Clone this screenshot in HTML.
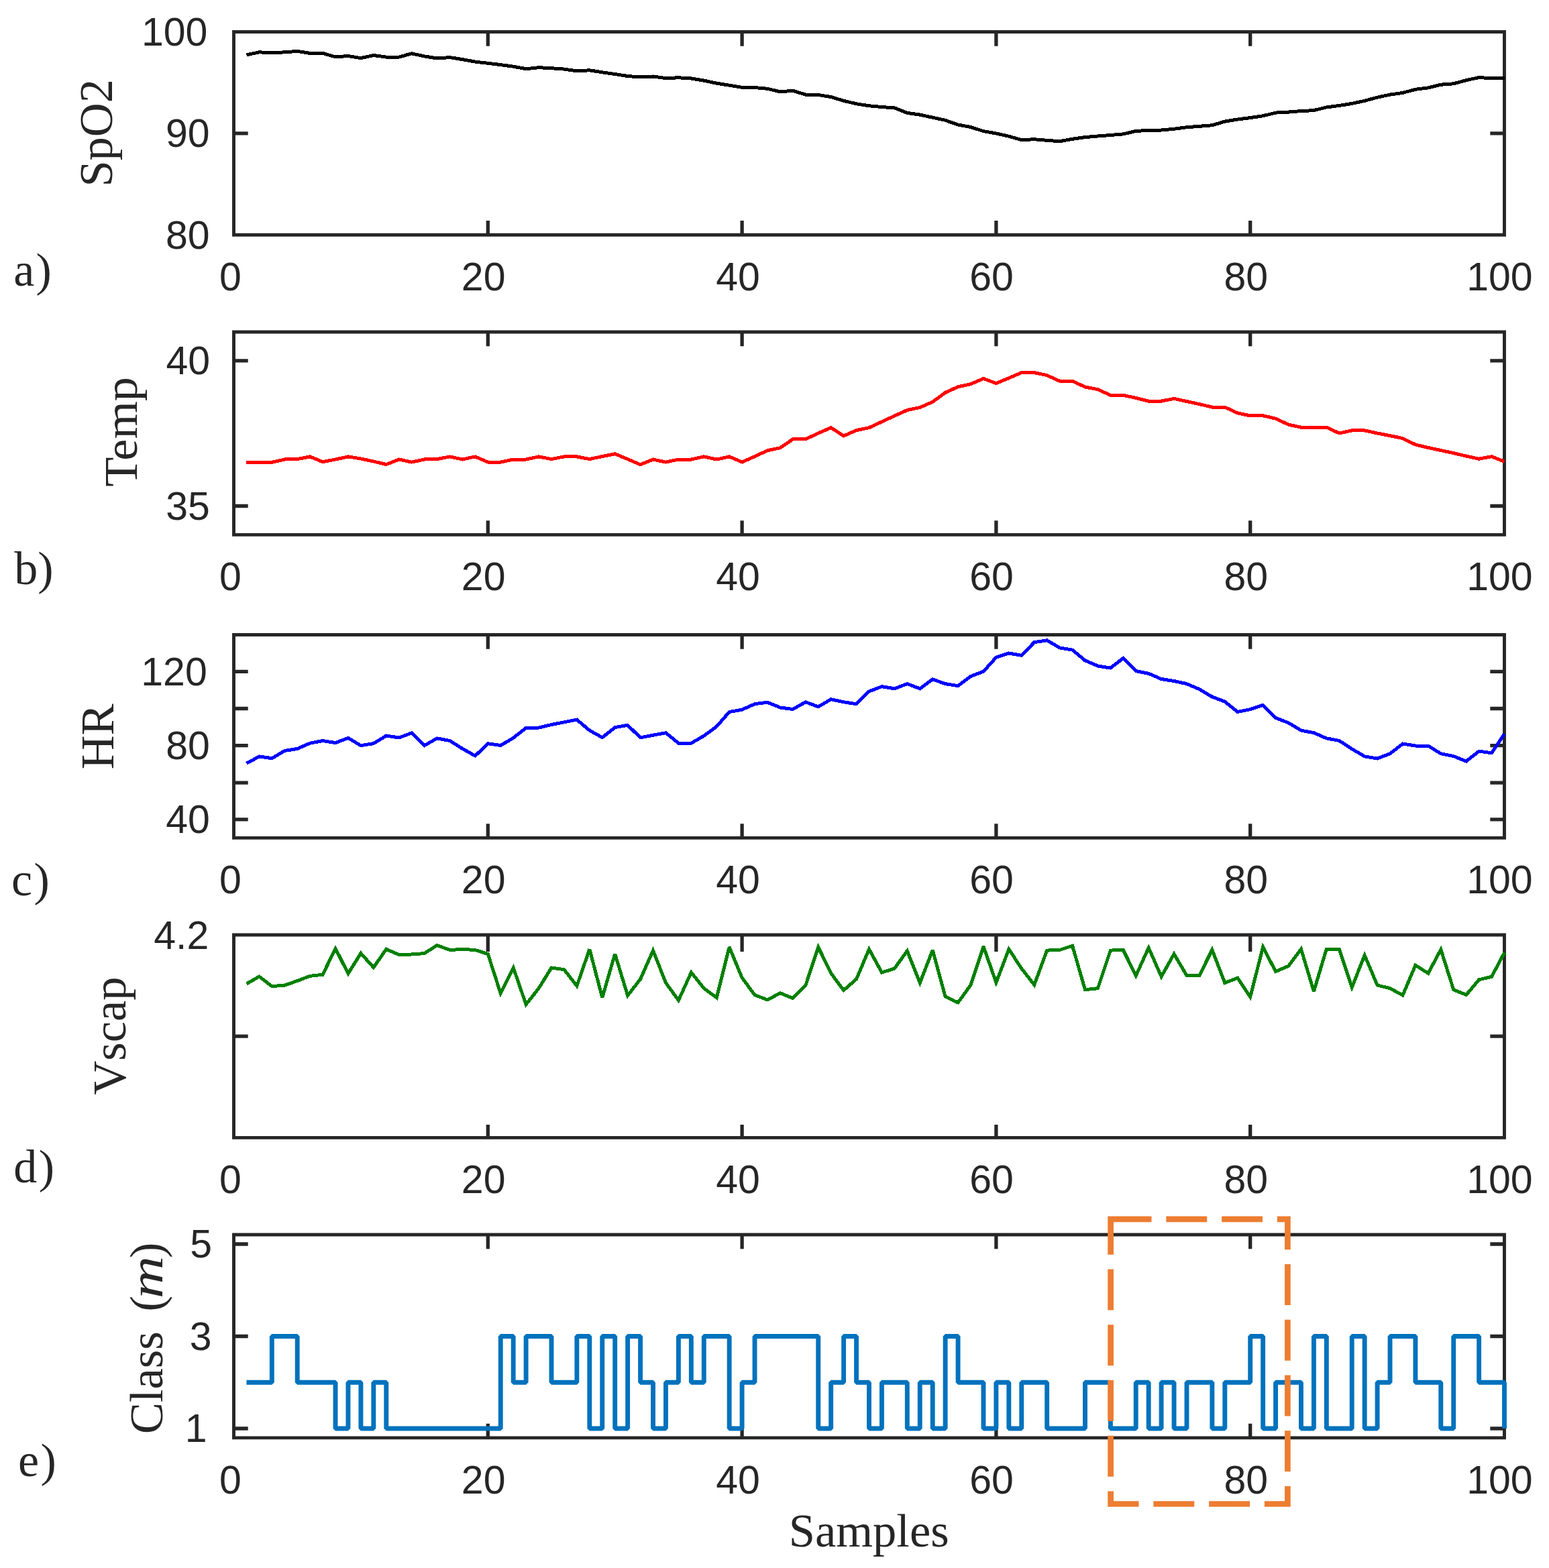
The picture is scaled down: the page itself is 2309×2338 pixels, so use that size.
<!DOCTYPE html><html><head><meta charset="utf-8"><title>Figure</title><style>html,body{margin:0;padding:0;background:#fff}svg{display:block}</style></head><body>
<svg width="2309" height="2338" viewBox="0 0 2309 2338">
<rect width="2309" height="2338" fill="#fff"/>
<path d="M727.3 350.3V329.1M727.3 47.5V68.7M1106.1 350.3V329.1M1106.1 47.5V68.7M1484.9 350.3V329.1M1484.9 47.5V68.7M1863.7 350.3V329.1M1863.7 47.5V68.7M348.5 198.9H369.7M2242.5 198.9H2221.3" fill="none" stroke="#262626" stroke-width="5.3" stroke-linecap="butt"/>
<path d="M348.5 47.5H2242.5V350.3H348.5Z" fill="none" stroke="#262626" stroke-width="4.9" stroke-linejoin="miter"/>
<path d="M727.3 797.4V776.2M727.3 495V516.2M1106.1 797.4V776.2M1106.1 495V516.2M1484.9 797.4V776.2M1484.9 495V516.2M1863.7 797.4V776.2M1863.7 495V516.2M348.5 537.9H369.7M2242.5 537.9H2221.3M348.5 754.5H369.7M2242.5 754.5H2221.3" fill="none" stroke="#262626" stroke-width="5.3" stroke-linecap="butt"/>
<path d="M348.5 495H2242.5V797.4H348.5Z" fill="none" stroke="#262626" stroke-width="4.9" stroke-linejoin="miter"/>
<path d="M727.3 1249.4V1228.2M727.3 946.5V967.7M1106.1 1249.4V1228.2M1106.1 946.5V967.7M1484.9 1249.4V1228.2M1484.9 946.5V967.7M1863.7 1249.4V1228.2M1863.7 946.5V967.7M348.5 1001.3H369.7M2242.5 1001.3H2221.3M348.5 1056.5H369.7M2242.5 1056.5H2221.3M348.5 1111.6H369.7M2242.5 1111.6H2221.3M348.5 1167.1H369.7M2242.5 1167.1H2221.3M348.5 1221.8H369.7M2242.5 1221.8H2221.3" fill="none" stroke="#262626" stroke-width="5.3" stroke-linecap="butt"/>
<path d="M348.5 946.5H2242.5V1249.4H348.5Z" fill="none" stroke="#262626" stroke-width="4.9" stroke-linejoin="miter"/>
<path d="M727.3 1696.4V1677.1M727.3 1394V1419.1M1106.1 1696.4V1677.1M1106.1 1394V1419.1M1484.9 1696.4V1677.1M1484.9 1394V1419.1M1863.7 1696.4V1677.1M1863.7 1394V1419.1M348.5 1545.2H369.7M2242.5 1545.2H2221.3" fill="none" stroke="#262626" stroke-width="5.3" stroke-linecap="butt"/>
<path d="M348.5 1394H2242.5V1696.4H348.5Z" fill="none" stroke="#262626" stroke-width="4.9" stroke-linejoin="miter"/>
<path d="M727.3 2143.9V2122.7M727.3 1841V1862.2M1106.1 2143.9V2122.7M1106.1 1841V1862.2M1484.9 2143.9V2122.7M1484.9 1841V1862.2M1863.7 2143.9V2122.7M1863.7 1841V1862.2M348.5 1855H369.7M2242.5 1855H2221.3M348.5 1992.5H369.7M2242.5 1992.5H2221.3M348.5 2130H369.7M2242.5 2130H2221.3" fill="none" stroke="#262626" stroke-width="5.3" stroke-linecap="butt"/>
<path d="M348.5 1841H2242.5V2143.9H348.5Z" fill="none" stroke="#262626" stroke-width="4.9" stroke-linejoin="miter"/>
<polyline points="367.44,81.9 386.38,77.8 405.32,79 424.26,77.8 443.2,76.4 462.14,79.4 481.08,79.4 500.02,84.9 518.96,83.5 537.9,86.6 556.84,82.5 575.78,85.1 594.72,85.1 613.66,79.8 632.6,83.9 651.54,87 670.48,85.6 689.42,88.6 708.36,92.1 727.3,94.3 746.24,96.6 765.18,99.2 784.12,102.7 803.06,100.7 822,101.7 840.94,103.1 859.88,105.8 878.82,104.8 897.76,107.8 916.7,110.5 935.64,113.5 954.58,115 973.52,114 992.46,116.6 1011.4,115.8 1030.34,117 1049.28,120.1 1068.22,124.2 1087.16,127.2 1106.1,130.3 1125.04,130.6 1143.98,132.3 1162.92,136.8 1181.86,135.3 1200.8,141.1 1219.74,141.5 1238.68,144.5 1257.62,150.3 1276.56,154.8 1295.5,157.8 1314.44,159.5 1333.38,160.9 1352.32,168.4 1371.26,171.1 1390.2,175.2 1409.14,179.3 1428.08,186 1447.02,189.5 1465.96,195.6 1484.9,199 1503.84,203.2 1522.78,208.7 1541.72,207.7 1560.66,209.3 1579.6,210.7 1598.54,207.3 1617.48,204.6 1636.42,203 1655.36,201.5 1674.3,199.9 1693.24,195.4 1712.18,194.4 1731.12,194 1750.06,192.3 1769,189.7 1787.94,188.3 1806.88,186.8 1825.82,181.1 1844.76,178 1863.7,175.6 1882.64,172.8 1901.58,168.1 1920.52,167.1 1939.46,165.6 1958.4,164.6 1977.34,159.9 1996.28,157.5 2015.22,154.4 2034.16,150.3 2053.1,145.2 2072.04,141.1 2090.98,138.4 2109.92,133.3 2128.86,130.9 2147.8,126.2 2166.74,124.8 2185.68,119.6 2204.62,115.6 2223.56,116.6 2242.5,116.6" fill="none" stroke="#000000" stroke-width="5" stroke-linejoin="miter" stroke-miterlimit="3" shape-rendering="crispEdges"/>
<polyline points="367.44,689.3 386.38,689.3 405.32,689.3 424.26,685 443.2,684.6 462.14,680.9 481.08,688.7 500.02,685 518.96,680.9 537.9,684 556.84,688 575.78,692.5 594.72,685 613.66,689.1 632.6,685 651.54,684.6 670.48,680.9 689.42,685 708.36,680.9 727.3,689.1 746.24,689.1 765.18,685 784.12,685 803.06,680.9 822,684.6 840.94,680.9 859.88,680.9 878.82,684.6 897.76,680.5 916.7,676.8 935.64,684.6 954.58,692.7 973.52,685 992.46,689.1 1011.4,685 1030.34,685 1049.28,680.9 1068.22,685 1087.16,680.9 1106.1,689 1125.04,680.6 1143.98,671.8 1162.92,667.8 1181.86,654.9 1200.8,654.9 1219.74,645.9 1238.68,637.7 1257.62,650 1276.56,641.6 1295.5,637.7 1314.44,628.9 1333.38,620.1 1352.32,611.5 1371.26,607.5 1390.2,599.3 1409.14,585.4 1428.08,576.8 1447.02,572.7 1465.96,564.5 1484.9,571.6 1503.84,563.7 1522.78,555.6 1541.72,555.6 1560.66,559.6 1579.6,568.2 1598.54,568.2 1617.48,577 1636.42,580.7 1655.36,589.3 1674.3,589.3 1693.24,593.4 1712.18,598.1 1731.12,598.1 1750.06,594.4 1769,598.5 1787.94,602.6 1806.88,607.1 1825.82,607.1 1844.76,615.9 1863.7,619.9 1882.64,619.8 1901.58,624.1 1920.52,633.1 1939.46,637.2 1958.4,637.2 1977.34,637.2 1996.28,646 2015.22,641.9 2034.16,641.9 2053.1,646 2072.04,649.7 2090.98,653.6 2109.92,663 2128.86,667.5 2147.8,671.5 2166.74,675.6 2185.68,680.1 2204.62,684.2 2223.56,680.7 2242.5,688.3" fill="none" stroke="#ff0000" stroke-width="5" stroke-linejoin="miter" stroke-miterlimit="3" shape-rendering="crispEdges"/>
<polyline points="367.44,1138.3 386.38,1128 405.32,1130.7 424.26,1119.5 443.2,1116.4 462.14,1108.2 481.08,1104.5 500.02,1107.6 518.96,1100.4 537.9,1111.7 556.84,1108.6 575.78,1097 594.72,1100 613.66,1092.9 632.6,1111.7 651.54,1100.9 670.48,1104.5 689.42,1116.4 708.36,1127 727.3,1108.8 746.24,1111.5 765.18,1100.3 784.12,1085.4 803.06,1085 822,1080.5 840.94,1076.8 859.88,1073.1 878.82,1089.1 897.76,1099.7 916.7,1084.6 935.64,1081.3 954.58,1099.9 973.52,1096.2 992.46,1092.7 1011.4,1108.1 1030.34,1108.1 1049.28,1097.2 1068.22,1083.3 1087.16,1061.5 1106.1,1058.2 1125.04,1049.7 1143.98,1047.2 1162.92,1055 1181.86,1057.5 1200.8,1046.8 1219.74,1053.8 1238.68,1042.7 1257.62,1046.8 1276.56,1049.7 1295.5,1030.9 1314.44,1023.7 1333.38,1026.8 1352.32,1019.6 1371.26,1026.8 1390.2,1012.9 1409.14,1019.6 1428.08,1022.7 1447.02,1008.4 1465.96,1001.2 1484.9,980.2 1503.84,974 1522.78,977.3 1541.72,957.7 1560.66,954.8 1579.6,965.9 1598.54,969.1 1617.48,984.9 1636.42,993 1655.36,996.1 1674.3,981.4 1693.24,1000.6 1712.18,1004.3 1731.12,1012.5 1750.06,1015.5 1769,1019.6 1787.94,1027.8 1806.88,1039 1825.82,1046.2 1844.76,1061.5 1863.7,1057.7 1882.64,1051.2 1901.58,1070.3 1920.52,1077.8 1939.46,1089.1 1958.4,1092.7 1977.34,1100.9 1996.28,1104.4 2015.22,1116.7 2034.16,1127.9 2053.1,1131 2072.04,1123.8 2090.98,1109.1 2109.92,1112 2128.86,1112 2147.8,1123.8 2166.74,1127.5 2185.68,1135.1 2204.62,1120.1 2223.56,1122.8 2242.5,1094.2" fill="none" stroke="#0000ff" stroke-width="5" stroke-linejoin="miter" stroke-miterlimit="3" shape-rendering="crispEdges"/>
<polyline points="367.44,1467 386.38,1456.1 405.32,1470.6 424.26,1469.2 443.2,1462.5 462.14,1455.3 481.08,1453.3 500.02,1414.2 518.96,1451.7 537.9,1421.4 556.84,1442.5 575.78,1415.3 594.72,1423.6 613.66,1423 632.6,1421.6 651.54,1409.5 670.48,1416.5 689.42,1415.4 708.36,1416.5 727.3,1422.4 746.24,1481.3 765.18,1442.9 784.12,1497.7 803.06,1473.7 822,1443 840.94,1445.7 859.88,1470.1 878.82,1415.3 897.76,1487.5 916.7,1422.4 935.64,1484.4 954.58,1460 973.52,1417.3 992.46,1465.5 1011.4,1491.6 1030.34,1450 1049.28,1473.7 1068.22,1487.5 1087.16,1412.2 1106.1,1458 1125.04,1483.5 1143.98,1490.9 1162.92,1480.7 1181.86,1488.5 1200.8,1469.6 1219.74,1412.2 1238.68,1451.2 1257.62,1476.6 1276.56,1460 1295.5,1415.3 1314.44,1450.1 1333.38,1444.1 1352.32,1417.9 1371.26,1465.6 1390.2,1416.7 1409.14,1486 1428.08,1495 1447.02,1468.6 1465.96,1411.2 1484.9,1465 1503.84,1415.3 1522.78,1444.1 1541.72,1468.5 1560.66,1417.1 1579.6,1416.5 1598.54,1410.2 1617.48,1475.7 1636.42,1473.7 1655.36,1417.1 1674.3,1416.5 1693.24,1454.8 1712.18,1413.2 1731.12,1456.2 1750.06,1422.4 1769,1454.7 1787.94,1454.3 1806.88,1416.3 1825.82,1465.6 1844.76,1458.2 1863.7,1486.4 1882.64,1412.2 1901.58,1448.6 1920.52,1440.4 1939.46,1415.3 1958.4,1478.3 1977.34,1415 1996.28,1415 2015.22,1472.1 2034.16,1424.5 2053.1,1469 2072.04,1473.7 2090.98,1484 2109.92,1439.2 2128.86,1451.3 2147.8,1415.9 2166.74,1475.7 2185.68,1483.4 2204.62,1460.8 2223.56,1456.3 2242.5,1420.4" fill="none" stroke="#008000" stroke-width="5" stroke-linejoin="miter" stroke-miterlimit="3" shape-rendering="crispEdges"/>
<polyline points="367.44,2061.25 386.38,2061.25 386.38,2061.25 405.32,2061.25 405.32,1992.5 424.26,1992.5 424.26,1992.5 443.2,1992.5 443.2,2061.25 462.14,2061.25 462.14,2061.25 481.08,2061.25 481.08,2061.25 500.02,2061.25 500.02,2130 518.96,2130 518.96,2061.25 537.9,2061.25 537.9,2130 556.84,2130 556.84,2061.25 575.78,2061.25 575.78,2130 594.72,2130 594.72,2130 613.66,2130 613.66,2130 632.6,2130 632.6,2130 651.54,2130 651.54,2130 670.48,2130 670.48,2130 689.42,2130 689.42,2130 708.36,2130 708.36,2130 727.3,2130 727.3,2130 746.24,2130 746.24,1992.5 765.18,1992.5 765.18,2061.25 784.12,2061.25 784.12,1992.5 803.06,1992.5 803.06,1992.5 822,1992.5 822,2061.25 840.94,2061.25 840.94,2061.25 859.88,2061.25 859.88,1992.5 878.82,1992.5 878.82,2130 897.76,2130 897.76,1992.5 916.7,1992.5 916.7,2130 935.64,2130 935.64,1992.5 954.58,1992.5 954.58,2061.25 973.52,2061.25 973.52,2130 992.46,2130 992.46,2061.25 1011.4,2061.25 1011.4,1992.5 1030.34,1992.5 1030.34,2061.25 1049.28,2061.25 1049.28,1992.5 1068.22,1992.5 1068.22,1992.5 1087.16,1992.5 1087.16,2130 1106.1,2130 1106.1,2061.25 1125.04,2061.25 1125.04,1992.5 1143.98,1992.5 1143.98,1992.5 1162.92,1992.5 1162.92,1992.5 1181.86,1992.5 1181.86,1992.5 1200.8,1992.5 1200.8,1992.5 1219.74,1992.5 1219.74,2130 1238.68,2130 1238.68,2061.25 1257.62,2061.25 1257.62,1992.5 1276.56,1992.5 1276.56,2061.25 1295.5,2061.25 1295.5,2130 1314.44,2130 1314.44,2061.25 1333.38,2061.25 1333.38,2061.25 1352.32,2061.25 1352.32,2130 1371.26,2130 1371.26,2061.25 1390.2,2061.25 1390.2,2130 1409.14,2130 1409.14,1992.5 1428.08,1992.5 1428.08,2061.25 1447.02,2061.25 1447.02,2061.25 1465.96,2061.25 1465.96,2130 1484.9,2130 1484.9,2061.25 1503.84,2061.25 1503.84,2130 1522.78,2130 1522.78,2061.25 1541.72,2061.25 1541.72,2061.25 1560.66,2061.25 1560.66,2130 1579.6,2130 1579.6,2130 1598.54,2130 1598.54,2130 1617.48,2130 1617.48,2061.25 1636.42,2061.25 1636.42,2061.25 1655.36,2061.25 1655.36,2130 1674.3,2130 1674.3,2130 1693.24,2130 1693.24,2061.25 1712.18,2061.25 1712.18,2130 1731.12,2130 1731.12,2061.25 1750.06,2061.25 1750.06,2130 1769,2130 1769,2061.25 1787.94,2061.25 1787.94,2061.25 1806.88,2061.25 1806.88,2130 1825.82,2130 1825.82,2061.25 1844.76,2061.25 1844.76,2061.25 1863.7,2061.25 1863.7,1992.5 1882.64,1992.5 1882.64,2130 1901.58,2130 1901.58,2061.25 1920.52,2061.25 1920.52,2061.25 1939.46,2061.25 1939.46,2130 1958.4,2130 1958.4,1992.5 1977.34,1992.5 1977.34,2130 1996.28,2130 1996.28,2130 2015.22,2130 2015.22,1992.5 2034.16,1992.5 2034.16,2130 2053.1,2130 2053.1,2061.25 2072.04,2061.25 2072.04,1992.5 2090.98,1992.5 2090.98,1992.5 2109.92,1992.5 2109.92,2061.25 2128.86,2061.25 2128.86,2061.25 2147.8,2061.25 2147.8,2130 2166.74,2130 2166.74,1992.5 2185.68,1992.5 2185.68,1992.5 2204.62,1992.5 2204.62,2061.25 2223.56,2061.25 2223.56,2061.25 2242.5,2061.25 2242.5,2130" fill="none" stroke="#0072bd" stroke-width="6.9" stroke-linejoin="bevel"/>
<text x="327.09" y="433.3" font-family='"Liberation Sans", Arial, sans-serif' font-size="59" fill="#262626">0</text>
<text x="687.86" y="433.3" font-family='"Liberation Sans", Arial, sans-serif' font-size="59" fill="#262626">20</text>
<text x="1067.26" y="433.3" font-family='"Liberation Sans", Arial, sans-serif' font-size="59" fill="#262626">40</text>
<text x="1445.14" y="433.3" font-family='"Liberation Sans", Arial, sans-serif' font-size="59" fill="#262626">60</text>
<text x="1824.56" y="433.3" font-family='"Liberation Sans", Arial, sans-serif' font-size="59" fill="#262626">80</text>
<text x="2186.19" y="433.3" font-family='"Liberation Sans", Arial, sans-serif' font-size="59" fill="#262626">100</text>
<text x="327.09" y="880.4" font-family='"Liberation Sans", Arial, sans-serif' font-size="59" fill="#262626">0</text>
<text x="687.86" y="880.4" font-family='"Liberation Sans", Arial, sans-serif' font-size="59" fill="#262626">20</text>
<text x="1067.26" y="880.4" font-family='"Liberation Sans", Arial, sans-serif' font-size="59" fill="#262626">40</text>
<text x="1445.14" y="880.4" font-family='"Liberation Sans", Arial, sans-serif' font-size="59" fill="#262626">60</text>
<text x="1824.56" y="880.4" font-family='"Liberation Sans", Arial, sans-serif' font-size="59" fill="#262626">80</text>
<text x="2186.19" y="880.4" font-family='"Liberation Sans", Arial, sans-serif' font-size="59" fill="#262626">100</text>
<text x="327.09" y="1332.4" font-family='"Liberation Sans", Arial, sans-serif' font-size="59" fill="#262626">0</text>
<text x="687.86" y="1332.4" font-family='"Liberation Sans", Arial, sans-serif' font-size="59" fill="#262626">20</text>
<text x="1067.26" y="1332.4" font-family='"Liberation Sans", Arial, sans-serif' font-size="59" fill="#262626">40</text>
<text x="1445.14" y="1332.4" font-family='"Liberation Sans", Arial, sans-serif' font-size="59" fill="#262626">60</text>
<text x="1824.56" y="1332.4" font-family='"Liberation Sans", Arial, sans-serif' font-size="59" fill="#262626">80</text>
<text x="2186.19" y="1332.4" font-family='"Liberation Sans", Arial, sans-serif' font-size="59" fill="#262626">100</text>
<text x="327.09" y="1779.4" font-family='"Liberation Sans", Arial, sans-serif' font-size="59" fill="#262626">0</text>
<text x="687.86" y="1779.4" font-family='"Liberation Sans", Arial, sans-serif' font-size="59" fill="#262626">20</text>
<text x="1067.26" y="1779.4" font-family='"Liberation Sans", Arial, sans-serif' font-size="59" fill="#262626">40</text>
<text x="1445.14" y="1779.4" font-family='"Liberation Sans", Arial, sans-serif' font-size="59" fill="#262626">60</text>
<text x="1824.56" y="1779.4" font-family='"Liberation Sans", Arial, sans-serif' font-size="59" fill="#262626">80</text>
<text x="2186.19" y="1779.4" font-family='"Liberation Sans", Arial, sans-serif' font-size="59" fill="#262626">100</text>
<text x="327.09" y="2226.9" font-family='"Liberation Sans", Arial, sans-serif' font-size="59" fill="#262626">0</text>
<text x="687.86" y="2226.9" font-family='"Liberation Sans", Arial, sans-serif' font-size="59" fill="#262626">20</text>
<text x="1067.26" y="2226.9" font-family='"Liberation Sans", Arial, sans-serif' font-size="59" fill="#262626">40</text>
<text x="1445.14" y="2226.9" font-family='"Liberation Sans", Arial, sans-serif' font-size="59" fill="#262626">60</text>
<text x="1824.56" y="2226.9" font-family='"Liberation Sans", Arial, sans-serif' font-size="59" fill="#262626">80</text>
<text x="2186.19" y="2226.9" font-family='"Liberation Sans", Arial, sans-serif' font-size="59" fill="#262626">100</text>
<text x="210.97" y="67.81" font-family='"Liberation Sans", Arial, sans-serif' font-size="59" fill="#262626">100</text>
<text x="246.98" y="219.21" font-family='"Liberation Sans", Arial, sans-serif' font-size="59" fill="#262626">90</text>
<text x="246.98" y="370.61" font-family='"Liberation Sans", Arial, sans-serif' font-size="59" fill="#262626">80</text>
<text x="247.48" y="558.21" font-family='"Liberation Sans", Arial, sans-serif' font-size="59" fill="#262626">40</text>
<text x="247.25" y="774.81" font-family='"Liberation Sans", Arial, sans-serif' font-size="59" fill="#262626">35</text>
<text x="210.27" y="1021.61" font-family='"Liberation Sans", Arial, sans-serif' font-size="59" fill="#262626">120</text>
<text x="247.18" y="1131.91" font-family='"Liberation Sans", Arial, sans-serif' font-size="59" fill="#262626">80</text>
<text x="247.18" y="1242.11" font-family='"Liberation Sans", Arial, sans-serif' font-size="59" fill="#262626">40</text>
<text x="229.25" y="1414.6" font-family='"Liberation Sans", Arial, sans-serif' font-size="59" fill="#262626">4.2</text>
<text x="283.36" y="1875.01" font-family='"Liberation Sans", Arial, sans-serif' font-size="59" fill="#262626">5</text>
<text x="282.78" y="2012.81" font-family='"Liberation Sans", Arial, sans-serif' font-size="59" fill="#262626">3</text>
<text x="275.77" y="2150.3" font-family='"Liberation Sans", Arial, sans-serif' font-size="59" fill="#262626">1</text>
<text x="20.14" y="426.3" font-family='"Liberation Serif", "Times New Roman", serif' font-size="70" fill="#262626" letter-spacing="2.4">a)</text>
<text x="21.2" y="871.3" font-family='"Liberation Serif", "Times New Roman", serif' font-size="70" fill="#262626">b)</text>
<text x="17.03" y="1335" font-family='"Liberation Serif", "Times New Roman", serif' font-size="70" fill="#262626" letter-spacing="2.4">c)</text>
<text x="20.27" y="1762.6" font-family='"Liberation Serif", "Times New Roman", serif' font-size="70" fill="#262626" letter-spacing="2.4">d)</text>
<text x="26.97" y="2201.3" font-family='"Liberation Serif", "Times New Roman", serif' font-size="70" fill="#262626" letter-spacing="2.4">e)</text>
<text transform="translate(166.7 278.62) rotate(-90)" font-family='"Liberation Serif", "Times New Roman", serif' font-size="70.5" fill="#262626">SpO2</text>
<text transform="translate(203.5 725.87) rotate(-90)" font-family='"Liberation Serif", "Times New Roman", serif' font-size="70.5" fill="#262626" textLength="163.71" lengthAdjust="spacingAndGlyphs">Temp</text>
<text transform="translate(168.7 1147.33) rotate(-90)" font-family='"Liberation Serif", "Times New Roman", serif' font-size="70.5" fill="#262626">HR</text>
<text transform="translate(187.3 1632.59) rotate(-90)" font-family='"Liberation Serif", "Times New Roman", serif' font-size="70.5" fill="#262626">Vscap</text>
<text transform="translate(242 2138.19) rotate(-90)" font-family='"Liberation Serif", "Times New Roman", serif' font-size="70.5" fill="#262626">Class</text>
<text transform="translate(242 1955.6) rotate(-90)" font-family='"Liberation Serif", "Times New Roman", serif' font-size="70.5" fill="#262626">(</text>
<text transform="translate(242 1936.17) rotate(-90)" font-family='"Liberation Serif", "Times New Roman", serif' font-size="70.5" fill="#262626" font-style="italic" textLength="63.35" lengthAdjust="spacingAndGlyphs">m</text>
<text transform="translate(242 1875.88) rotate(-90)" font-family='"Liberation Serif", "Times New Roman", serif' font-size="70.5" fill="#262626">)</text>
<text x="1175.71" y="2306" font-family='"Liberation Serif", "Times New Roman", serif' font-size="70.5" fill="#262626">Samples</text>
<path d="M1655.6 1817.9H1919.4V2242.5H1655.6Z" fill="none" stroke="#ed7d31" stroke-width="8.7" stroke-dasharray="60.9 21.85" stroke-linejoin="miter"/>
</svg></body></html>
